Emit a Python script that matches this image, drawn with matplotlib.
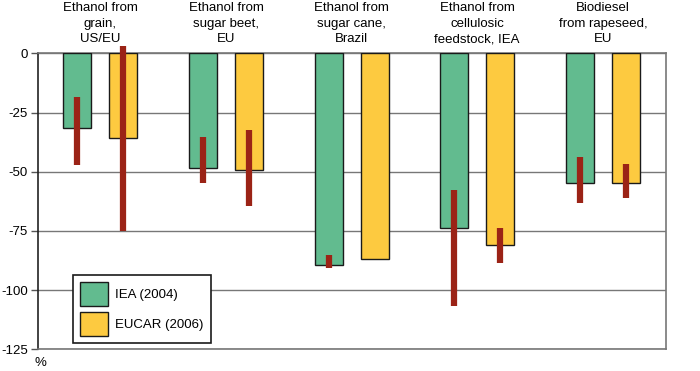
import numpy as np
import matplotlib.pyplot as plt
from matplotlib.patches import Patch

plt.rcParams['font.family'] = ['Liberation Sans', 'DejaVu Sans']

categories = ['Ethanol from\ngrain,\nUS/EU', 'Ethanol from\nsugar beet,\nEU',
              'Ethanol from\nsugar cane,\nBrazil', 'Ethanol from\ncellulosic\nfeedstock, IEA',
              'Biodiesel\nfrom rapeseed,\nEU']
iea = [-31.4, -48.3, -89.4, -73.8, -54.7]
eucar = [-35.6, -49.1, -87.0, -81.1, -54.7]
iea_range = [(-18.3, -47.0), (-35.3, -54.9), (-85.2, -90.5), (-57.7, -106.6), (-43.9, -63.0)]
eucar_range = [(3.2, -74.9), (-32.3, -64.5), None, (-73.6, -88.5), (-46.7, -60.9)]
series_names = ['IEA (2004)', 'EUCAR (2006)']

GREEN = '#62bb8f'
YELLOW = '#fdca40'
RED = '#9b2316'

fig = plt.figure(figsize=(7, 3.71), dpi=100)
ax = fig.add_axes([0.0536, 0.0585, 0.8974, 0.7975])

x = np.arange(len(categories))
off = 0.183
w = 0.222
ax.bar(x - off, iea, w, color=GREEN, edgecolor='#1a1a1a', linewidth=1, zorder=3)
ax.bar(x + off, eucar, w, color=YELLOW, edgecolor='#1a1a1a', linewidth=1, zorder=3)

for i in range(len(categories)):
    r = iea_range[i]
    if r:
        ax.plot([x[i] - off] * 2, r, color=RED, lw=4.5, solid_capstyle='butt',
                zorder=4, clip_on=False)
    r = eucar_range[i]
    if r:
        ax.plot([x[i] + off] * 2, r, color=RED, lw=4.5, solid_capstyle='butt',
                zorder=4, clip_on=False)

ax.set_xlim(-0.5, 4.5)
ax.set_ylim(-125, 0)
ax.set_yticks([0, -25, -50, -75, -100, -125])
ax.set_yticklabels(['0', '-25', '-50', '-75', '-100', '-125'], fontsize=9.5)
ax.set_xticks([])
ax.tick_params(axis='y', length=5, width=1, color='#555555', pad=2)
ax.yaxis.grid(True, color='#777777', lw=1, zorder=1)

ax.spines['left'].set_color('#222222')
for s in ['top', 'right', 'bottom']:
    ax.spines[s].set_color('#777777')
for s in ax.spines.values():
    s.set_linewidth(1.2)

for i, c in enumerate(categories):
    ax.text(x[i], 1.027, c, transform=ax.get_xaxis_transform(), ha='center',
            va='bottom', fontsize=9.5, linespacing=1.42)

ax.text(0.005, -0.025, '%', transform=ax.transAxes, ha='center', va='top', fontsize=9.5)

handles = [Patch(facecolor=GREEN, edgecolor='#1a1a1a', lw=1),
           Patch(facecolor=YELLOW, edgecolor='#1a1a1a', lw=1)]
leg = ax.legend(handles, series_names, loc='lower left', bbox_to_anchor=(0.056, 0.02),
                fontsize=9.5, fancybox=False, edgecolor='#1a1a1a', framealpha=1,
                handlelength=2.1, handleheight=2.4, labelspacing=0.5,
                borderpad=0.55, handletextpad=0.55, borderaxespad=0)
leg.get_frame().set_linewidth(1.2)
leg.set_zorder(5)

fig.savefig('out.png', dpi=100)
